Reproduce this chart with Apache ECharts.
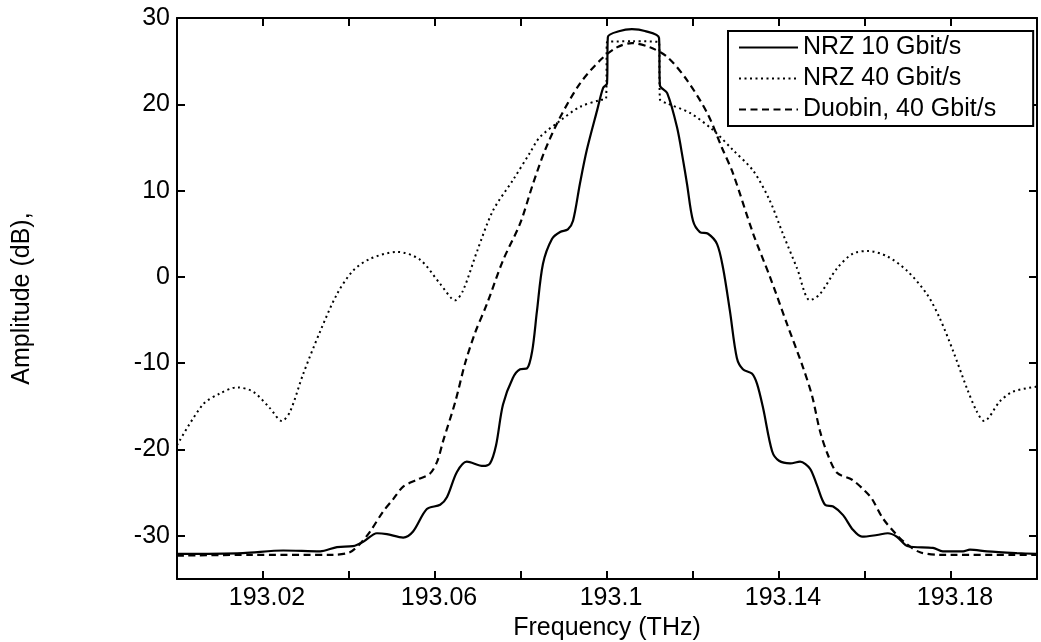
<!DOCTYPE html>
<html>
<head>
<meta charset="utf-8">
<script src="https://cdn.jsdelivr.net/npm/echarts@6/dist/echarts.min.js"></script>
<style>
  html, body { margin: 0; padding: 0; background: #fff; }
  #chart { width: 1041px; height: 642px; }
</style>
</head>
<body>
<div id="chart"></div>
<script>
// values (frequency in THz, amplitude in dB)
const nrz10Freq = [193.0, 193.0153, 193.0247, 193.0333, 193.0372, 193.0409, 193.0433, 193.0465, 193.0488, 193.0526,
  193.0549, 193.0581, 193.0612, 193.0628, 193.0651, 193.0674, 193.0712, 193.0728, 193.0742, 193.0758,
  193.0781, 193.0798, 193.0814, 193.0826, 193.0837, 193.0851, 193.0872, 193.0891, 193.0909, 193.0921,
  193.0937, 193.0953, 193.0977, 193.0991, 193.1000, 193.1002, 193.1030, 193.1058, 193.1088, 193.1121,
  193.1123, 193.1140, 193.1163, 193.1177, 193.1186, 193.1200, 193.1216, 193.1235, 193.1256, 193.1270,
  193.1286, 193.1302, 193.1316, 193.1337, 193.1349, 193.1363, 193.1384, 193.1400, 193.1426, 193.1449,
  193.1472, 193.1488, 193.1507, 193.1526, 193.1549, 193.1572, 193.1593, 193.1628, 193.1653, 193.1674,
  193.1700, 193.1758, 193.1781, 193.1828, 193.1844, 193.1884, 193.1953, 193.2];
const nrz10Amp = [-32.1, -32.0, -31.7, -31.8, -31.3, -31.2, -30.7, -29.7, -29.8, -30.2,
  -29.5, -26.9, -26.4, -25.5, -22.6, -21.4, -21.9, -21.6, -19.5, -14.8,
  -11.7, -10.7, -10.6, -8.6, -4.0, 1.5, 4.4, 5.2, 5.5, 6.5,
  10.8, 14.7, 19.3, 21.9, 22.4, 27.8, 28.5, 28.7, 28.5, 27.7,
  22.2, 21.3, 17.3, 13.5, 10.8, 6.5, 5.2, 5.0, 3.8, 1.0,
  -4.0, -9.4, -10.7, -11.2, -12.4, -15.2, -20.2, -21.3, -21.6, -21.4,
  -22.2, -24.1, -26.4, -26.6, -27.6, -29.3, -30.1, -29.9, -29.7, -30.1,
  -31.2, -31.4, -31.8, -31.8, -31.6, -31.8, -32.0, -32.1];

const nrz40Freq = [193.0, 193.0060, 193.0100, 193.0140, 193.0177, 193.0216, 193.0244, 193.0263, 193.0293, 193.0333,
  193.0372, 193.0409, 193.0449, 193.0512, 193.0565, 193.0612, 193.0647, 193.0665, 193.0698, 193.0735,
  193.0781, 193.0821, 193.0844, 193.0891, 193.0937, 193.0984, 193.0998, 193.1000, 193.1060, 193.1121,
  193.1123, 193.1140, 193.1193, 193.1247, 193.1293, 193.1340, 193.1379, 193.1409, 193.1442, 193.1472,
  193.1495, 193.1535, 193.1572, 193.1607, 193.1651, 193.1698, 193.1744, 193.1774, 193.1805, 193.1837,
  193.1860, 193.1877, 193.1914, 193.1944, 193.2];
const nrz40Amp = [-19.5, -14.8, -13.5, -12.8, -13.3, -15.2, -16.7, -15.6, -11.3, -6.3,
  -2.0, 0.7, 2.1, 2.9, 2.0, -0.8, -2.7, -1.6, 3.0, 7.7,
  11.2, 14.4, 16.2, 18.1, 19.7, 20.5, 20.7, 27.2, 27.3, 27.2,
  20.6, 20.1, 19.0, 17.0, 14.7, 12.3, 8.8, 5.0, 1.0, -2.7,
  -2.0, 1.0, 2.7, 3.0, 2.4, 0.7, -2.0, -4.8, -8.6, -12.9,
  -15.6, -16.7, -14.4, -13.3, -12.7];

const duoFreq = [193.0, 193.0170, 193.0363, 193.0402, 193.0426, 193.0449, 193.0479, 193.0502, 193.0526, 193.0558,
  193.0588, 193.0605, 193.0619, 193.0647, 193.0670, 193.0693, 193.0721, 193.0758, 193.0798, 193.0828,
  193.0856, 193.0891, 193.0937, 193.0984, 193.1023, 193.1058, 193.1100, 193.1140, 193.1186, 193.1233,
  193.1267, 193.1293, 193.1340, 193.1379, 193.1419, 193.1456, 193.1477, 193.1495, 193.1512, 193.1535,
  193.1570, 193.1600, 193.1616, 193.1642, 193.1674, 193.1698, 193.1728, 193.1774, 193.2];
const duoAmp = [-32.3, -32.2, -32.2, -31.9, -30.9, -29.5, -27.2, -25.8, -24.3, -23.5,
  -22.8, -21.4, -19.0, -14.5, -10.0, -6.5, -3.1, 1.9, 6.2, 10.8,
  14.7, 18.5, 22.4, 25.1, 26.6, 27.1, 26.6, 25.5, 22.8, 19.0,
  15.0, 12.0, 5.0, 0.0, -5.5, -10.5, -13.8, -17.8, -20.4, -22.7,
  -23.5, -24.8, -25.7, -28.0, -29.9, -31.0, -31.9, -32.2, -32.2];

const seriesNames = ['NRZ 10 Gbit/s', 'NRZ 40 Gbit/s', 'Duobin, 40 Gbit/s'];
const xTicks = [193.02, 193.04, 193.06, 193.08, 193.1, 193.12, 193.14, 193.16, 193.18];
const xLabels = [193.02, 193.06, 193.1, 193.14, 193.18];
const yTicks = [-30, -20, -10, 0, 10, 20, 30];

const FONT = '"Liberation Sans", Arial, sans-serif';

const zip = (xs, ys) => xs.map((x, i) => [x, ys[i]]);

const axisLine = { show: true, onZero: false, lineStyle: { color: '#000', width: 2 } };
const ticks = (vals) => ({
  show: true, inside: true, length: 8, customValues: vals,
  lineStyle: { color: '#000', width: 2 }
});
const labelStyle = { color: '#000', fontSize: 25, fontFamily: FONT };

const chart = echarts.init(document.getElementById('chart'));

const lineSeries = (name, data, type, width) => ({
  name: name,
  type: 'line',
  data: data,
  symbol: 'none',
  smooth: 0.3,
  lineStyle: { color: '#000', width: width, type: type },
  itemStyle: { color: 'transparent' },
  emphasis: { disabled: true }
});

chart.setOption({
  animation: false,
  backgroundColor: '#fff',
  grid: { left: 177, right: 4, top: 18, bottom: 63, containLabel: false, outerBoundsMode: 'none' },
  legend: {
    data: seriesNames,
    orient: 'vertical',
    left: 728,
    top: 31,
    align: 'left',
    itemWidth: 59,
    itemHeight: 14,
    itemGap: 6,
    padding: [4, 37, 4, 10],
    borderColor: '#000',
    borderWidth: 2,
    backgroundColor: '#fff',
    itemStyle: { color: 'transparent', borderWidth: 0 },
    textStyle: { color: '#000', fontSize: 25, fontFamily: FONT }
  },
  xAxis: [
    {
      type: 'value', position: 'bottom', min: 193.0, max: 193.2,
      axisLine: axisLine, axisTick: ticks(xTicks),
      axisLabel: Object.assign({ customValues: xLabels, margin: 7, padding: [0, 0, 0, 8], formatter: (v) => String(v) }, labelStyle),
      splitLine: { show: false },
      name: 'Frequency (THz)', nameLocation: 'middle', nameGap: 36,
      nameTextStyle: labelStyle
    },
    {
      type: 'value', position: 'top', min: 193.0, max: 193.2,
      axisLine: axisLine, axisTick: ticks(xTicks),
      axisLabel: { show: false }, splitLine: { show: false }
    }
  ],
  yAxis: [
    {
      type: 'value', position: 'left', min: -35, max: 30,
      axisLine: axisLine, axisTick: ticks(yTicks),
      axisLabel: Object.assign({ customValues: yTicks, margin: 7 }, labelStyle),
      splitLine: { show: false },
      name: 'Amplitude (dB),', nameLocation: 'middle', nameGap: 142,
      nameTextStyle: labelStyle
    },
    {
      type: 'value', position: 'right', min: -35, max: 30,
      axisLine: axisLine, axisTick: ticks(yTicks),
      axisLabel: { show: false }, splitLine: { show: false }
    }
  ],
  series: [
    lineSeries(seriesNames[0], zip(nrz10Freq, nrz10Amp), 'solid', 2.2),
    lineSeries(seriesNames[1], zip(nrz40Freq, nrz40Amp), [2, 3.5], 2),
    lineSeries(seriesNames[2], zip(duoFreq, duoAmp), [7, 4.5], 2.2)
  ]
});
</script>
</body>
</html>
